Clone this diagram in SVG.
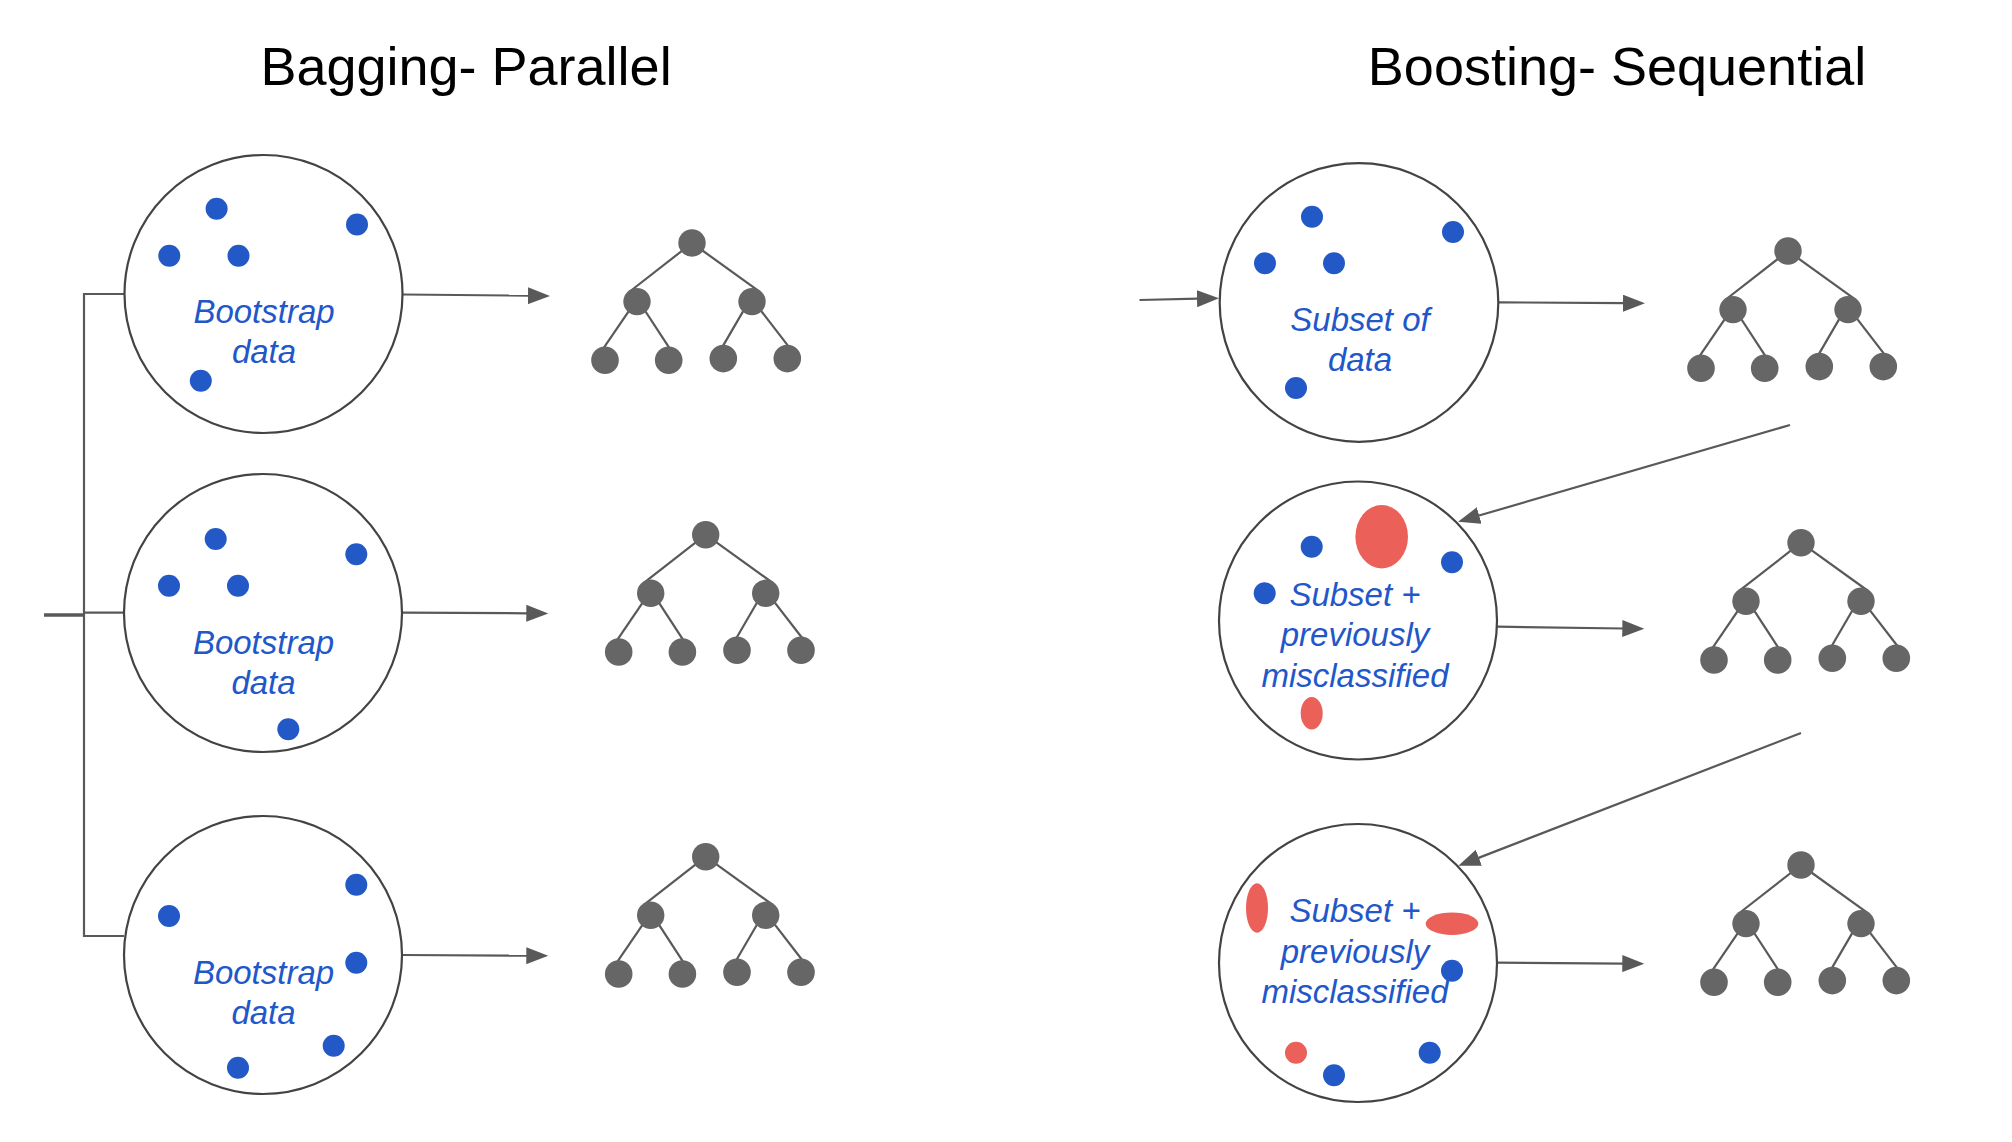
<svg xmlns="http://www.w3.org/2000/svg" xmlns:xlink="http://www.w3.org/1999/xlink" width="2012" height="1142" viewBox="0 0 2012 1142">
<style>
.title{font-family:"Liberation Sans",Arial,sans-serif;font-size:54px;fill:#000;text-anchor:middle}
.lbl{font-family:"Liberation Sans",Arial,sans-serif;font-size:33px;font-style:italic;fill:#2257c9;text-anchor:middle}
.bubble{fill:#fff;stroke:#434343;stroke-width:2.2}
.dot{fill:#2359c6}
.red{fill:#eb6159}
.conn{stroke:#595959;stroke-width:2.2;fill:none}
.arr{stroke:#595959;stroke-width:2.2;fill:none;marker-end:url(#ah)}
.te{stroke:#595959;stroke-width:2.2}
.tn{fill:#666666}
</style>
<defs>
<marker id="ah" markerUnits="userSpaceOnUse" markerWidth="23" markerHeight="17" refX="1" refY="8.5" orient="auto">
<path d="M0,0 L22,8.5 L0,17 z" fill="#595959"/>
</marker>
<g id="tree">
<line class="te" x1="0" y1="0" x2="-62.2" y2="48.5"/>
<line class="te" x1="0" y1="0" x2="67.2" y2="48.3"/>
<line class="te" x1="-61.5" y1="65.7" x2="-90.5" y2="108.1"/>
<line class="te" x1="-49.4" y1="64" x2="-20.6" y2="108.2"/>
<line class="te" x1="54.7" y1="62.1" x2="28.8" y2="106.6"/>
<line class="te" x1="65.1" y1="62.7" x2="98.8" y2="106.3"/>
<circle class="tn" cx="0" cy="0" r="13.7"/>
<circle class="tn" cx="-55" cy="58.6" r="13.7"/>
<circle class="tn" cx="60" cy="58.6" r="13.7"/>
<circle class="tn" cx="-87" cy="117.3" r="13.8"/>
<circle class="tn" cx="-23.3" cy="117.3" r="13.8"/>
<circle class="tn" cx="31.3" cy="115.6" r="13.8"/>
<circle class="tn" cx="95.3" cy="115.6" r="13.8"/>
</g>
</defs>
<rect width="2012" height="1142" fill="#fff"/>

<g id="titles">
<text class="title" x="466" y="85">Bagging- Parallel</text>
<text class="title" x="1617" y="85">Boosting- Sequential</text>
</g>

<g id="connectors">
<path class="conn" d="M124,294 H84 V936 H124"/>
<line class="conn" x1="84" y1="612.7" x2="124" y2="612.7"/>
<line x1="44" y1="615" x2="84" y2="615" stroke="#595959" stroke-width="3.5"/>
<line class="arr" x1="403" y1="294.5" x2="529" y2="295.7"/>
<line class="arr" x1="402" y1="612.7" x2="527.3" y2="613.3"/>
<line class="arr" x1="402" y1="955" x2="527.3" y2="955.7"/>
<line class="arr" x1="1139.5" y1="300" x2="1198" y2="298.7"/>
<line class="arr" x1="1498" y1="302.3" x2="1624" y2="303.2"/>
<line class="arr" x1="1790" y1="425" x2="1478.2" y2="515.8"/>
<line class="arr" x1="1497" y1="626.7" x2="1623.3" y2="628.5"/>
<line class="arr" x1="1801" y1="733" x2="1477.9" y2="858.1"/>
<line class="arr" x1="1497" y1="962.7" x2="1623.3" y2="963.6"/>
</g>

<g id="bag1">
<circle class="bubble" cx="263.5" cy="294" r="139"/>
<circle class="dot" cx="216.6" cy="208.7" r="11"/>
<circle class="dot" cx="357" cy="224.5" r="11"/>
<circle class="dot" cx="169.3" cy="255.7" r="11"/>
<circle class="dot" cx="238.5" cy="255.7" r="11"/>
<circle class="dot" cx="200.8" cy="380.7" r="11"/>
<text class="lbl" x="264" y="323">Bootstrap</text>
<text class="lbl" x="264" y="363">data</text>
</g>

<g id="bag2">
<circle class="bubble" cx="263" cy="613" r="139"/>
<circle class="dot" cx="215.7" cy="539" r="11"/>
<circle class="dot" cx="356.3" cy="554.3" r="11"/>
<circle class="dot" cx="169" cy="585.7" r="11"/>
<circle class="dot" cx="238" cy="585.7" r="11"/>
<circle class="dot" cx="288.3" cy="729.3" r="11"/>
<text class="lbl" x="263.5" y="654">Bootstrap</text>
<text class="lbl" x="263.5" y="694.3">data</text>
</g>

<g id="bag3">
<circle class="bubble" cx="263" cy="955" r="139"/>
<circle class="dot" cx="169" cy="916" r="11"/>
<circle class="dot" cx="356.3" cy="884.7" r="11"/>
<circle class="dot" cx="356.3" cy="962.7" r="11"/>
<circle class="dot" cx="333.7" cy="1045.7" r="11"/>
<circle class="dot" cx="238" cy="1067.7" r="11"/>
<text class="lbl" x="263.5" y="984">Bootstrap</text>
<text class="lbl" x="263.5" y="1024">data</text>
</g>

<g id="bagtree1"><use xlink:href="#tree" href="#tree" transform="translate(692,243)"/></g>
<g id="bagtree2"><use xlink:href="#tree" href="#tree" transform="translate(705.7,534.7)"/></g>
<g id="bagtree3"><use xlink:href="#tree" href="#tree" transform="translate(705.7,856.7)"/></g>

<g id="boost1">
<circle class="bubble" cx="1359" cy="302.5" r="139.3"/>
<circle class="dot" cx="1312" cy="216.7" r="11"/>
<circle class="dot" cx="1453" cy="232" r="11"/>
<circle class="dot" cx="1265" cy="263.3" r="11"/>
<circle class="dot" cx="1334" cy="263.3" r="11"/>
<circle class="dot" cx="1296" cy="388" r="11"/>
<text class="lbl" x="1360" y="331">Subset of</text>
<text class="lbl" x="1360" y="371">data</text>
</g>

<g id="boost2">
<circle class="bubble" cx="1358" cy="620.5" r="139"/>
<circle class="dot" cx="1311.7" cy="546.7" r="11"/>
<circle class="dot" cx="1452" cy="562.3" r="11"/>
<circle class="dot" cx="1264.7" cy="593.3" r="11"/>
<ellipse class="red" cx="1381.7" cy="536.7" rx="26.3" ry="31.7"/>
<ellipse class="red" cx="1311.7" cy="713.3" rx="11" ry="16.3"/>
<text class="lbl" x="1355" y="605.7">Subset +</text>
<text class="lbl" x="1355" y="645.5">previously</text>
<text class="lbl" x="1355" y="686.7">misclassified</text>
</g>

<g id="boost3">
<circle class="bubble" cx="1358" cy="963" r="139"/>
<ellipse class="red" cx="1257" cy="908" rx="11" ry="24.7"/>
<ellipse class="red" cx="1452" cy="923.7" rx="26.3" ry="11.2"/>
<circle class="red" cx="1296" cy="1052.7" r="11"/>
<text class="lbl" x="1355" y="922.3">Subset +</text>
<text class="lbl" x="1355" y="963">previously</text>
<text class="lbl" x="1355" y="1002.7">misclassified</text>
<circle class="dot" cx="1452" cy="970.7" r="11"/>
<circle class="dot" cx="1429.7" cy="1052.7" r="11"/>
<circle class="dot" cx="1334" cy="1075.3" r="11"/>
</g>

<g id="boosttree1"><use xlink:href="#tree" href="#tree" transform="translate(1788,251)"/></g>
<g id="boosttree2"><use xlink:href="#tree" href="#tree" transform="translate(1801,542.7)"/></g>
<g id="boosttree3"><use xlink:href="#tree" href="#tree" transform="translate(1801,865)"/></g>
</svg>
